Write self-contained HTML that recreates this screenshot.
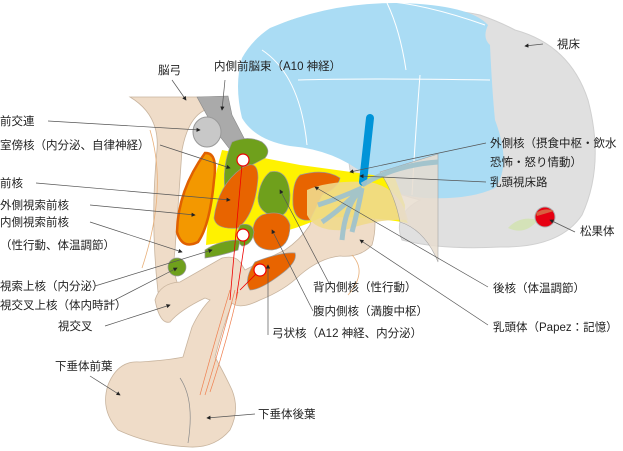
<!DOCTYPE html>
<html><head><meta charset="utf-8"><style>
html,body{margin:0;padding:0;background:#fff;}
svg{display:block}
text{font-family:"Liberation Sans","Noto Sans CJK JP",sans-serif;font-size:11.5px;fill:#222}
.l{stroke:#555;stroke-width:0.7;fill:none}
.s{stroke:#999;stroke-width:0.7}
</style></head><body>
<svg width="623" height="451" viewBox="0 0 623 451" xmlns="http://www.w3.org/2000/svg">
<defs><marker id="a" markerWidth="6" markerHeight="6" refX="5" refY="3" orient="auto"><path d="M0,0 L6,3 L0,6z" fill="#222"/></marker></defs>
<!-- gray brain -->
<path d="M330,20 Q420,2 480,15 Q500,22 515,30 Q570,45 588,100 Q605,165 582,215 Q560,248 500,247 Q440,250 402,240 Q392,215 420,200 Q380,190 350,170 Z" fill="#e0e0e0" stroke="#d0d0d0"/>
<path d="M262,40 Q280,20 300,18 L290,40 Z" fill="#d4e2b8"/>
<path d="M508,228 Q520,215 538,220 Q525,236 508,228Z" fill="#d4e2b8"/>
<!-- blue -->
<path d="M270,28 Q330,2 400,3 Q470,5 488,25 Q482,38 490,45 Q492,90 495,120 Q512,165 495,188 Q470,200 425,198 Q385,195 365,175 Q335,150 290,146 Q255,140 242,118 Q234,85 242,58 Q252,40 270,28Z" fill="#aadcf4"/>
<path d="M262,50 Q300,75 307,145 M298,80 Q360,78 490,80 M387,3 Q400,30 406,70 M420,75 Q415,140 412,195 M350,2 Q400,-5 485,25" stroke="#fff" stroke-width="1" fill="none"/>
<!-- tan column -->
<path d="M130,97 L200,97 L205,110 Q188,118 182,150 L175,250 Q172,270 178,285 L158,292 Q150,220 157,150 Q160,115 130,97Z" fill="#efdcc8" stroke="#c8b49e" stroke-width="0.8"/>
<!-- floor band, chiasm, stalk, pituitary, mammillary -->
<path d="M155,300 Q160,283 180,282 L222,258 Q235,255 240,262 L245,270 Q260,262 285,250 Q300,240 310,225 Q315,195 330,188 Q360,180 372,200 Q378,225 372,245 Q360,258 340,256 Q320,258 300,275 Q285,290 260,300 Q240,310 232,303 Q222,330 215,357 Q225,375 232,390 Q240,410 230,430 Q215,448 190,447 Q150,445 118,430 Q100,410 108,385 Q118,360 140,362 Q170,360 183,357 Q188,340 192,327 Q200,310 210,300 L205,298 Q180,310 170,322 Q160,325 155,300Z" fill="#efdcc8" stroke="#c8b49e" stroke-width="0.8"/>
<path d="M180,378 Q195,400 188,443" stroke="#8a8a8a" stroke-width="0.7" fill="none"/>
<path d="M150,130 Q168,190 142,268" stroke="#e8b07a" fill="none" stroke-width="0.8"/>
<path d="M352,255 Q368,272 348,295" stroke="#e8b07a" fill="none" stroke-width="0.8"/>
<!-- yellow region -->
<path d="M222,150 L300,165 L395,178 L405,205 Q404,218 408,223 Q360,215 320,218 Q300,228 270,235 L240,240 L206,245 Q208,200 222,150Z" fill="#fff200"/>
<!-- gray fornix/commissure -->
<path d="M197,97 L228,96 L232,115 L245,140 L232,152 L215,130Z" fill="#aaa" stroke="#888" stroke-width="0.6"/>
<ellipse cx="207" cy="132" rx="14" ry="15" fill="#c8c8c8" stroke="#999"/>
<!-- nuclei -->
<path d="M205,153 Q218,152 214,180 Q210,225 198,242 Q182,250 177,232 Q178,190 205,153Z" fill="#f39800" stroke="#e06000" stroke-width="2.5"/>
<path d="M232,142 Q248,135 262,142 Q272,150 265,158 Q252,165 242,170 Q232,190 225,190 Q222,165 232,142Z" fill="#6fa01c" class="s"/>
<path d="M242,168 Q258,158 258,178 Q255,215 238,228 Q216,230 214,218 Q218,185 242,168Z" fill="#e86400" class="s"/>
<path d="M270,172 Q288,168 290,195 Q290,217 275,217 Q258,212 258,198 Q260,180 270,172Z" fill="#6fa01c" class="s"/>
<path d="M300,175 Q325,168 340,178 Q338,188 322,195 Q315,210 310,220 Q295,222 293,205 Q292,182 300,175Z" fill="#e86400" class="s"/>
<path d="M262,215 Q285,208 290,225 Q290,248 272,250 Q255,250 253,235 Q252,220 262,215Z" fill="#e86400" class="s"/>
<path d="M240,225 Q252,222 254,232 Q252,245 242,246 Q234,240 240,225Z" fill="#6fa01c" class="s"/>
<path d="M205,250 Q220,240 240,240 L238,250 Q220,256 205,258Z" fill="#6fa01c" class="s"/>
<path d="M255,262 Q280,252 295,253 Q298,262 280,275 Q260,290 250,290 Q243,280 255,262Z" fill="#e86400" class="s"/>
<ellipse cx="177" cy="267" rx="9" ry="9" fill="#6fa01c" class="s"/>
<!-- translucent panel and mammillary upper -->
<path d="M307,190 Q330,180 370,182 Q400,188 408,220 Q380,218 345,230 Q315,232 307,215Z" fill="#efd98c" opacity="0.9"/>
<path d="M380,172 L438,154 L438,262 Q425,230 400,222 Q395,195 380,172Z" fill="#e8ddd0" opacity="0.85" stroke="#999" stroke-width="0.6"/>
<!-- blue tract -->
<path d="M370,118 L363,182" stroke="#0094d8" stroke-width="8" stroke-linecap="round" fill="none"/>
<path d="M362,185 Q395,165 438,162 M362,188 Q345,205 342,240 M362,188 Q358,210 352,232 M362,188 Q340,198 318,205 M362,188 Q340,210 322,222" stroke="#9fc2cc" stroke-width="5" fill="none" opacity="0.95"/>
<!-- red cells & axons -->
<path d="M242,165 L230,300 M245,240 L236,300 M258,272 L240,290" stroke="#e00" stroke-width="0.8" fill="none"/>
<path d="M230,290 Q215,340 200,395 M235,290 Q222,340 205,395 M238,292 Q226,345 210,392" stroke="#ef8050" stroke-width="0.7" fill="none"/>
<g fill="#fff" stroke="#e00" stroke-width="1.2"><circle cx="243" cy="160" r="6"/><circle cx="243" cy="235" r="6"/><circle cx="260" cy="270" r="6"/></g>
<!-- pineal -->
<circle cx="545" cy="217" r="10" fill="#e60012" stroke="#aaa"/>
<path d="M536,213 Q545,207 554,211 L537,216Z" fill="#d86040"/>
<!-- leader lines -->
<g class="l" marker-end="url(#a)">
<path d="M543,44 L525,46"/><path d="M172,80 L186,100"/><path d="M225,80 L222,110"/>
<path d="M48,121 L200,130"/><path d="M160,145 L230,168"/><path d="M36,183 L230,200"/>
<path d="M90,205 L195,215"/><path d="M90,222 L182,252"/><path d="M95,286 L212,250"/>
<path d="M105,305 L177,268"/><path d="M105,326 L170,305"/><path d="M90,376 L120,395"/>
<path d="M255,414 L207,418"/><path d="M486,143 L350,172"/><path d="M486,182 L360,176"/>
<path d="M575,232 L550,220"/><path d="M488,287 L315,187"/><path d="M330,285 L280,190"/>
<path d="M313,311 L272,230"/><path d="M268,335 L268,265"/><path d="M488,325 L360,240"/>
</g>
<!-- labels -->
<text x="557" y="48">視床</text>
<text x="158" y="74">脳弓</text>
<text x="214" y="70">内側前脳束（A10 神経）</text>
<text x="0" y="125">前交連</text>
<text x="0" y="149">室傍核（内分泌、自律神経）</text>
<text x="0" y="187">前核</text>
<text x="0" y="209">外側視索前核</text>
<text x="0" y="226">内側視索前核</text>
<text x="0" y="249">（性行動、体温調節）</text>
<text x="0" y="290">視索上核（内分泌）</text>
<text x="0" y="309">視交叉上核（体内時計）</text>
<text x="58" y="330">視交叉</text>
<text x="55" y="370">下垂体前葉</text>
<text x="258" y="418">下垂体後葉</text>
<text x="490" y="147">外側核（摂食中枢・飲水</text>
<text x="490" y="166">恐怖・怒り情動）</text>
<text x="490" y="186">乳頭視床路</text>
<text x="580" y="235">松果体</text>
<text x="493" y="292">後核（体温調節）</text>
<text x="313" y="291">背内側核（性行動）</text>
<text x="313" y="315">腹内側核（満腹中枢）</text>
<text x="272" y="337">弓状核（A12 神経、内分泌）</text>
<text x="493" y="331">乳頭体（Papez：記憶）</text>
</svg>
</body></html>
